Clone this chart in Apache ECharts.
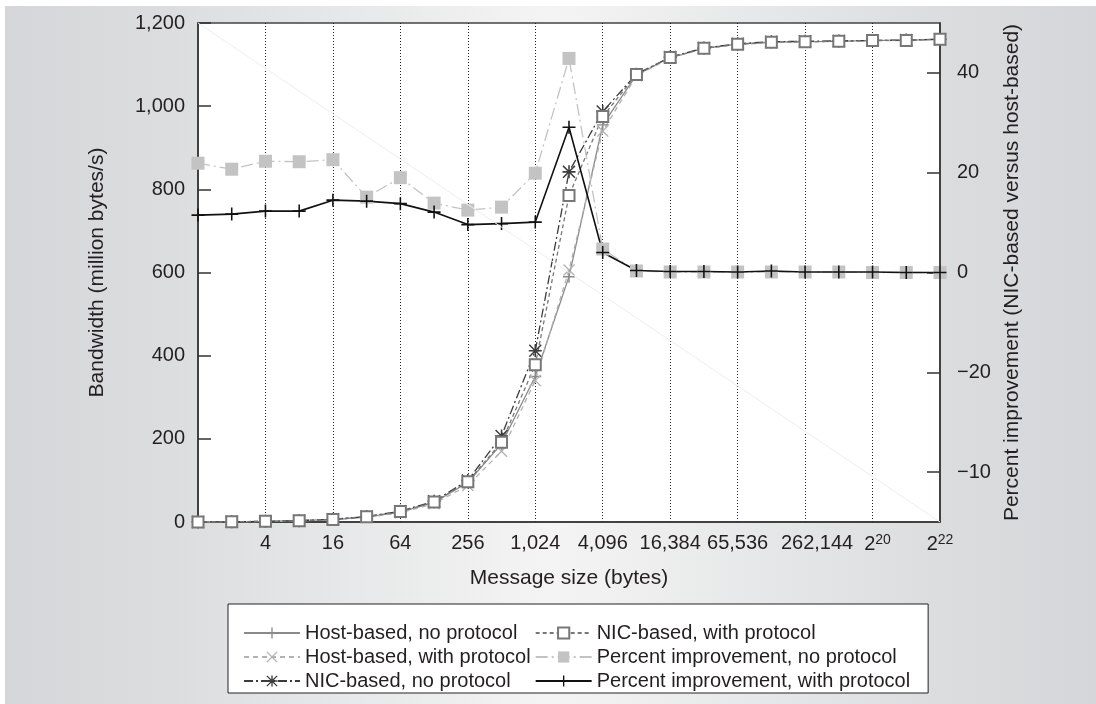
<!DOCTYPE html>
<html>
<head>
<meta charset="utf-8">
<script src="https://cdn.jsdelivr.net/npm/echarts@6/dist/echarts.min.js"></script>
<style>
  html, body { margin: 0; padding: 0; background: #fff; }
  #chart { width: 1096px; height: 704px; }
</style>
</head>
<body>
<div id="chart"></div>
<script>
// message sizes 2^0 .. 2^22 (bytes)
const sizeNames = ['1', '2', '4', '8', '16', '32', '64', '128', '256', '512', '1024', '2048',
  '4096', '8192', '16384', '32768', '65536', '131072', '262144', '524288', '1048576', '2097152', '4194304'];
const sizeTickLabels = ['', '', '4', '', '16', '', '64', '', '256', '', '1,024', '', '4,096', '',
  '16,384', '', '65,536', '', '{sh|262,144}', '', '{sh2|2}{sup|20}', '', '2{sup|22}'];

// bandwidth, million bytes/s (left axis)
const hostNoProto = [0, 0.5, 1.5, 3, 6, 12, 24, 47, 95, 188, 350, 590, 955, 1075, 1117, 1139, 1149, 1154, 1155, 1156, 1158, 1158, 1161];
const hostWithProto = [0, 0.5, 1.4, 3, 5.5, 11, 22, 44, 88, 170, 340, 606, 940, 1073, 1116, 1138, 1148, 1153, 1155, 1156, 1157, 1158, 1160];
const nicNoProto = [0, 0.6, 1.6, 3.3, 6.5, 13, 26, 50, 100, 207, 412, 842, 987, 1077, 1118, 1140, 1150, 1155, 1156, 1157, 1158, 1159, 1161];
const nicWithProto = [0, 0.6, 1.6, 3.2, 6.3, 12.5, 25, 48, 97, 192, 378, 785, 975, 1076, 1117, 1139, 1149, 1154, 1155, 1156, 1158, 1158, 1161];

// percent improvement (right axis)
const pctNoProto = [21.9, 20.7, 22.3, 22.2, 22.6, 15.1, 19.0, 13.9, 12.5, 13.1, 19.9, 42.9, 4.7, 0.3, 0.1, 0.1, 0.1, 0.1, 0.1, 0.1, 0, 0, 0];
const pctWithProto = [11.5, 11.7, 12.3, 12.3, 14.5, 14.3, 13.8, 12.1, 9.6, 9.8, 10.1, 29.1, 4.0, 0.4, 0.2, 0.2, 0.1, 0.3, 0.1, 0.1, 0.1, 0, 0];

// right axis ticks, labels as printed in the source
const pctTickValues = [-40, -20, 0, 20, 40];
const pctTickLabels = ['\u221210', '\u221220', '0', '20', '40'];

const bwMax = 1200;
const font = 'Liberation Sans, Arial, sans-serif';
const textColor = '#231f20';

const plusPath = 'path://M4.4,0H5.6V4.4H10V5.6H5.6V10H4.4V5.6H0V4.4H4.4Z';
const crossPath = 'path://M0,0.8L0.8,0L5,4.2L9.2,0L10,0.8L5.8,5L10,9.2L9.2,10L5,5.8L0.8,10L0,9.2L4.2,5Z';
const starPath = plusPath + ' ' + crossPath.replace('path://', '');

function lineSeries(name, data, axis, color, dash, width, symbol, size, extra) {
  return Object.assign({
    name: name,
    type: 'line',
    yAxisIndex: axis,
    data: data,
    symbol: symbol,
    symbolSize: size,
    showAllSymbol: true,
    color: color,
    lineStyle: { color: color, width: width, type: dash },
    itemStyle: { color: color },
    emphasis: { disabled: true }
  }, extra || {});
}

const chart = echarts.init(document.getElementById('chart'));
chart.setOption({
  animation: false,
  textStyle: { fontFamily: font, color: textColor },
  graphic: [{
    type: 'rect',
    z: -10,
    silent: true,
    shape: { x: 5, y: 6, width: 1091, height: 698 },
    style: {
      fill: {
        type: 'linear', x: 0, y: 0, x2: 1, y2: 0,
        colorStops: [
          { offset: 0, color: '#d5d6d9' },
          { offset: 0.15, color: '#dcdddf' },
          { offset: 0.5, color: '#f4f4f4' },
          { offset: 0.85, color: '#dcdddf' },
          { offset: 1, color: '#d5d6d9' }
        ]
      }
    }
  }],
  grid: {
    left: 198, right: 156, top: 23, bottom: 182,
    show: true, backgroundColor: '#fff', borderColor: '#444', borderWidth: 1.5
  },
  legend: {
    left: 228, top: 604,
    orient: 'vertical',
    height: 76,
    itemWidth: 56, itemHeight: 14, itemGap: 4,
    padding: [19, 18, 2, 15],
    backgroundColor: '#fff', borderColor: '#222', borderWidth: 1,
    textStyle: { fontFamily: font, fontSize: 20, color: textColor },
    data: ['Host-based, no protocol', 'Host-based, with protocol', 'NIC-based, no protocol',
      'NIC-based, with protocol', 'Percent improvement, no protocol', 'Percent improvement, with protocol']
  },
  xAxis: {
    type: 'category',
    data: sizeNames,
    boundaryGap: false,
    name: 'Message size (bytes)',
    nameLocation: 'middle',
    nameGap: 46,
    nameTextStyle: { fontFamily: font, fontSize: 21, color: textColor },
    axisLine: { lineStyle: { color: '#333', width: 1.5 } },
    axisTick: { show: false },
    axisLabel: {
      interval: 0,
      margin: 11,
      fontSize: 20,
      color: textColor,
      formatter: (v, i) => sizeTickLabels[i],
      rich: {
        sh: { fontSize: 20, padding: [0, 0, 0, 24] },
        sh2: { fontSize: 20, padding: [0, 0, 0, 10] },
        sup: { fontSize: 14, verticalAlign: 'top', padding: [0, 0, 9, 0] }
      }
    },
    splitLine: {
      show: true,
      interval: (i) => i % 2 === 0 && i > 0 && i < sizeNames.length - 1,
      lineStyle: { color: '#222', width: 1, type: [1, 2] }
    }
  },
  yAxis: [{
    type: 'value',
    min: 0, max: bwMax, interval: 200,
    name: 'Bandwidth (million bytes/s)',
    nameLocation: 'middle',
    nameRotate: 90,
    nameGap: 90,
    nameTextStyle: { fontFamily: font, fontSize: 21, color: textColor },
    axisLine: { show: true, lineStyle: { color: '#333', width: 1.5 } },
    axisTick: { show: true, inside: true, length: 13, lineStyle: { color: '#333', width: 1.5 } },
    axisLabel: { margin: 13, fontSize: 20, color: textColor, formatter: (v) => v.toLocaleString('en-US') },
    splitLine: { show: false }
  }, {
    type: 'value',
    position: 'right',
    min: -50, max: 50,
    name: 'Percent improvement (NIC-based versus host-based)',
    nameLocation: 'middle',
    nameRotate: 90,
    nameGap: 62,
    nameTextStyle: { fontFamily: font, fontSize: 21, color: textColor },
    axisLine: { show: true, lineStyle: { color: '#333', width: 1.5 } },
    axisTick: { show: true, inside: true, length: 13, customValues: pctTickValues, lineStyle: { color: '#333', width: 1.5 } },
    axisLabel: {
      margin: 17, fontSize: 20, color: textColor,
      customValues: pctTickValues,
      formatter: (v) => pctTickLabels[pctTickValues.indexOf(v)]
    },
    splitLine: { show: false }
  }],
  series: [
    lineSeries('Host-based, no protocol', hostNoProto, 0, '#8a8a8a', 'solid', 1.3, plusPath, 12, {
      markLine: {
        silent: true, symbol: 'none', label: { show: false },
        lineStyle: { color: '#eeeeee', width: 1, type: 'solid' },
        data: [[{ coord: [0, bwMax] }, { coord: [sizeNames.length - 1, 0] }]]
      }
    }),
    lineSeries('Host-based, with protocol', hostWithProto, 0, '#b2b2b2', [5, 4], 1.3, crossPath, 12),
    lineSeries('NIC-based, no protocol', nicNoProto, 0, '#3c3c3c', [9, 3, 2, 3], 1.3, starPath, 13),
    lineSeries('NIC-based, with protocol', nicWithProto, 0, '#777', [4, 3], 1.3, 'emptyRect', 11, {
      itemStyle: { color: '#777', borderWidth: 1.3 }
    }),
    lineSeries('Percent improvement, no protocol', pctNoProto, 1, '#c3c3c3', [12, 4, 2, 4], 1.3, 'rect', 13),
    lineSeries('Percent improvement, with protocol', pctWithProto, 1, '#111', 'solid', 1.6, plusPath, 13)
  ]
});
window.addEventListener('resize', () => chart.resize());
</script>
</body>
</html>
